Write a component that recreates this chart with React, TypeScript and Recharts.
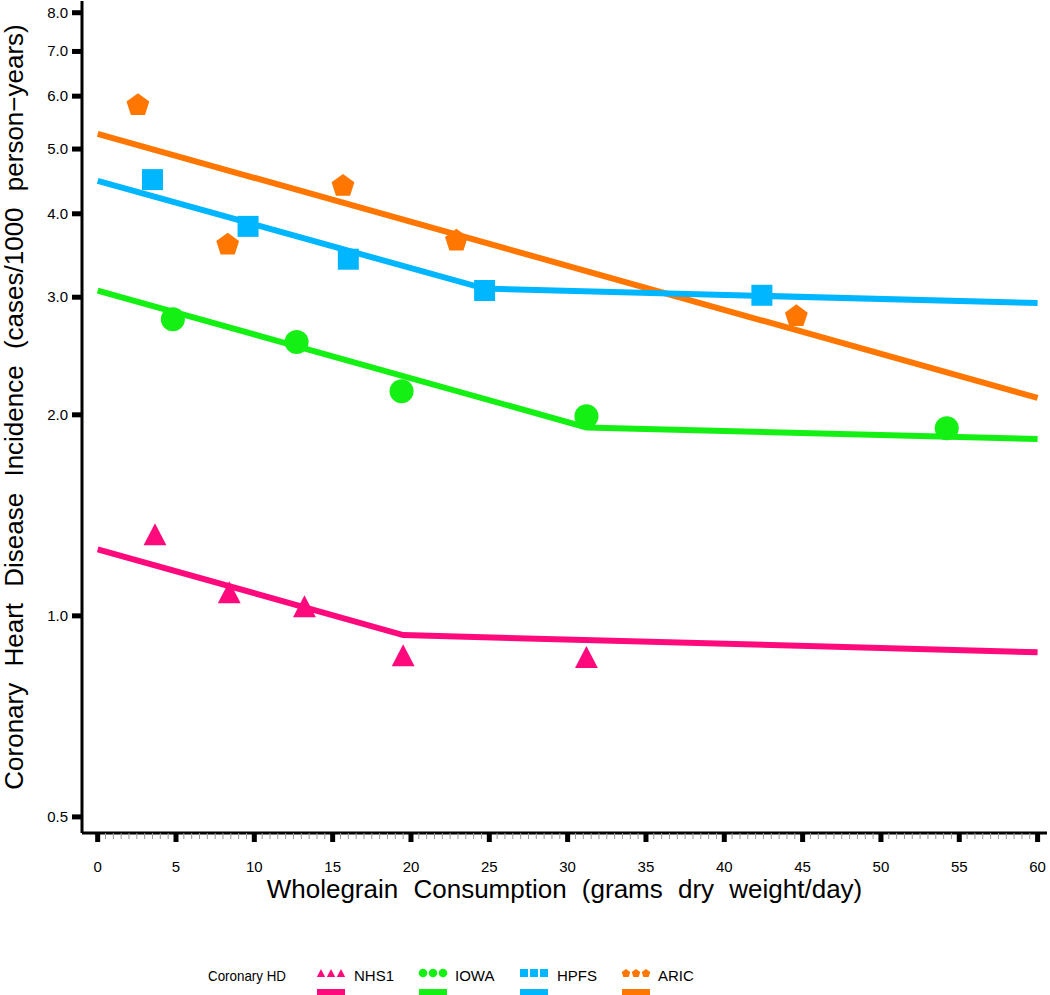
import React from "react";
import { ComposedChart, Line, Scatter, XAxis, YAxis, Legend } from "recharts";

const xTicks: number[] = [];
for (let i = 0; i <= 120; i++) xTicks.push(i / 2);
const yTicks = [0.5, 1, 2, 3, 4, 5, 6, 7, 8];

const nhsPts = [
  { x: 3.66, y: 1.325 },
  { x: 8.4, y: 1.085 },
  { x: 13.2, y: 1.034 },
  { x: 19.5, y: 0.873 },
  { x: 31.2, y: 0.868 },
];
const nhsFit = [
  { x: 0, y: 1.258 },
  { x: 19.5, y: 0.936 },
  { x: 60, y: 0.882 },
];
const iowaPts = [
  { x: 4.8, y: 2.78 },
  { x: 12.7, y: 2.57 },
  { x: 19.4, y: 2.17 },
  { x: 31.2, y: 1.99 },
  { x: 54.2, y: 1.91 },
];
const iowaFit = [
  { x: 0, y: 3.07 },
  { x: 31.2, y: 1.915 },
  { x: 60, y: 1.84 },
];
const hpfsPts = [
  { x: 3.5, y: 4.5 },
  { x: 9.6, y: 3.83 },
  { x: 16.0, y: 3.42 },
  { x: 24.7, y: 3.07 },
  { x: 42.4, y: 3.02 },
];
const hpfsFit = [
  { x: 0, y: 4.48 },
  { x: 24.7, y: 3.09 },
  { x: 60, y: 2.94 },
];
const aricPts = [
  { x: 2.57, y: 5.84 },
  { x: 8.3, y: 3.61 },
  { x: 15.66, y: 4.42 },
  { x: 22.9, y: 3.66 },
  { x: 44.6, y: 2.82 },
];
const aricFit = [
  { x: 0, y: 5.27 },
  { x: 60, y: 2.12 },
];

const PINK = "#ff0a7c";
const GREEN = "#14f014";
const BLUE = "#00b6ff";
const ORANGE = "#ff7700";
const FONT = "'Liberation Sans', Arial, Helvetica, sans-serif";

const tri = (cx: number, cy: number, s: number) =>
  `M${cx},${cy - s * 0.5} L${cx + s * 0.52},${cy + s * 0.5} L${cx - s * 0.52},${cy + s * 0.5} Z`;
const pent = (cx: number, cy: number, r: number) => {
  const pts: string[] = [];
  for (let i = 0; i < 5; i++) {
    const a = -Math.PI / 2 + (i * 2 * Math.PI) / 5;
    pts.push(`${cx + r * Math.cos(a)},${cy + r * Math.sin(a) + r * 0.1}`);
  }
  return `M${pts.join(" L")} Z`;
};

const TriShape = (p: any) => <path d={tri(p.cx, p.cy, 22)} fill={PINK} />;
const CircShape = (p: any) => <circle cx={p.cx} cy={p.cy} r={12} fill={GREEN} />;
const SqShape = (p: any) => <rect x={p.cx - 10.5} y={p.cy - 10.5} width={21} height={21} fill={BLUE} />;
const PentShape = (p: any) => <path d={pent(p.cx, p.cy, 12)} fill={ORANGE} />;

const XTick = (p: any) => {
  const v = p.payload.value;
  const major = Math.abs(v % 5) < 1e-6;
  if (major) {
    return (
      <g>
        <rect x={p.x - 2.5} y={p.y} width={5} height={9} fill="#000" />
        <text x={p.x} y={p.y + 39} textAnchor="middle" fontSize={15} fontFamily={FONT} fill="#000">
          {v}
        </text>
      </g>
    );
  }
  return <line x1={p.x} x2={p.x} y1={p.y} y2={p.y + 6} stroke="#9a9a9a" strokeWidth={1} />;
};

const YTick = (p: any) => {
  const v = p.payload.value;
  return (
    <g>
      <rect x={p.x - 10} y={p.y - 2.5} width={10} height={5} fill="#000" />
      <text x={p.x - 14} y={p.y + 5} textAnchor="end" fontSize={15} fontFamily={FONT} fill="#000">
        {Number(v).toFixed(1)}
      </text>
    </g>
  );
};

const YLabel = (p: any) => {
  const vb = p.viewBox || { x: 0, y: 0, width: 82, height: 832 };
  const cx = vb.x + 14;
  const cy = vb.y + vb.height / 2 - 10;
  return (
    <text
      x={cx}
      y={cy}
      transform={`rotate(-90 ${cx} ${cy})`}
      textAnchor="middle"
      dominantBaseline="central"
      fontSize={26}
      fontFamily={FONT}
      wordSpacing={9}
      fill="#000"
    >
      Coronary Heart Disease Incidence (cases/1000 person−years)
    </text>
  );
};

const XLabel = (p: any) => {
  const vb = p.viewBox || { x: 82, y: 833, width: 964, height: 100 };
  return (
    <text
      x={vb.x + vb.width / 2}
      y={vb.y + 65}
      textAnchor="middle"
      fontSize={26}
      fontFamily={FONT}
      wordSpacing={8}
      fill="#000"
    >
      Wholegrain Consumption (grams dry weight/day)
    </text>
  );
};

const legendItems = [
  { name: "NHS1", color: PINK, kind: "tri", mx: 331, tx: 354 },
  { name: "IOWA", color: GREEN, kind: "circ", mx: 433, tx: 455 },
  { name: "HPFS", color: BLUE, kind: "sq", mx: 534, tx: 557 },
  { name: "ARIC", color: ORANGE, kind: "pent", mx: 636, tx: 658 },
];

const LegendContent = () => (
  <svg width={1047} height={62} style={{ display: "block" }}>
    <text x={208} y={48} fontSize={15} fontFamily={FONT} fill="#000" textLength={78} lengthAdjust="spacingAndGlyphs">
      Coronary HD
    </text>
    {legendItems.map((it) => (
      <g key={it.name}>
        {[-10, 0, 10].map((d) => {
          const cx = it.mx + d;
          const cy = 40;
          if (it.kind === "tri") return <path key={d} d={tri(cx, cy, 8)} fill={it.color} />;
          if (it.kind === "circ") return <circle key={d} cx={cx} cy={cy} r={4.3} fill={it.color} />;
          if (it.kind === "sq") return <rect key={d} x={cx - 4} y={cy - 4} width={8} height={8} fill={it.color} />;
          return <path key={d} d={pent(cx, cy, 4.5)} fill={it.color} />;
        })}
        <rect x={it.mx - 14} y={56} width={28} height={6} fill={it.color} />
        <text x={it.tx} y={48} fontSize={15} fontFamily={FONT} fill="#000">
          {it.name}
        </text>
      </g>
    ))}
  </svg>
);

export default function App() {
  return (
    <div style={{ position: "absolute", left: 0, top: 0, width: 1050, height: 995, background: "#fff" }}>
      <ComposedChart width={1050} height={995} margin={{ top: 1, right: 3, bottom: 0, left: 0 }}>
        <XAxis
          dataKey="x"
          type="number"
          domain={[-1.0, 60.6]}
          ticks={xTicks}
          interval={0}
          allowDataOverflow
          height={100}
          tickSize={0}
          tickMargin={0}
          tickLine={false}
          tick={<XTick />}
          axisLine={{ stroke: "#000", strokeWidth: 3 }}
          label={<XLabel />}
        />
        <XAxis
          xAxisId="top"
          orientation="top"
          type="number"
          domain={[-1.0, 60.6]}
          height={0}
          tick={false}
          tickLine={false}
          axisLine={{ stroke: "#000", strokeWidth: 3 }}
        />
        <YAxis
          dataKey="y"
          type="number"
          scale="log"
          domain={[0.473, 8.33]}
          ticks={yTicks}
          interval={0}
          allowDataOverflow
          width={82}
          tickSize={0}
          tickMargin={0}
          tickLine={false}
          tick={<YTick />}
          axisLine={{ stroke: "#000", strokeWidth: 3 }}
          label={<YLabel />}
        />
        <YAxis
          yAxisId="right"
          orientation="right"
          type="number"
          domain={[0, 1]}
          width={0}
          tick={false}
          tickLine={false}
          axisLine={{ stroke: "#000", strokeWidth: 3 }}
        />
        <Legend verticalAlign="bottom" height={62} content={<LegendContent />} />
        <Line data={aricFit} dataKey="y" stroke={ORANGE} strokeWidth={6} dot={false} isAnimationActive={false} legendType="none" />
        <Line data={hpfsFit} dataKey="y" stroke={BLUE} strokeWidth={6} dot={false} isAnimationActive={false} legendType="none" />
        <Line data={iowaFit} dataKey="y" stroke={GREEN} strokeWidth={6} dot={false} isAnimationActive={false} legendType="none" />
        <Line data={nhsFit} dataKey="y" stroke={PINK} strokeWidth={6} dot={false} isAnimationActive={false} legendType="none" />
        <Scatter data={aricPts} dataKey="y" shape={PentShape} isAnimationActive={false} />
        <Scatter data={hpfsPts} dataKey="y" shape={SqShape} isAnimationActive={false} />
        <Scatter data={iowaPts} dataKey="y" shape={CircShape} isAnimationActive={false} />
        <Scatter data={nhsPts} dataKey="y" shape={TriShape} isAnimationActive={false} />
      </ComposedChart>
    </div>
  );
}
